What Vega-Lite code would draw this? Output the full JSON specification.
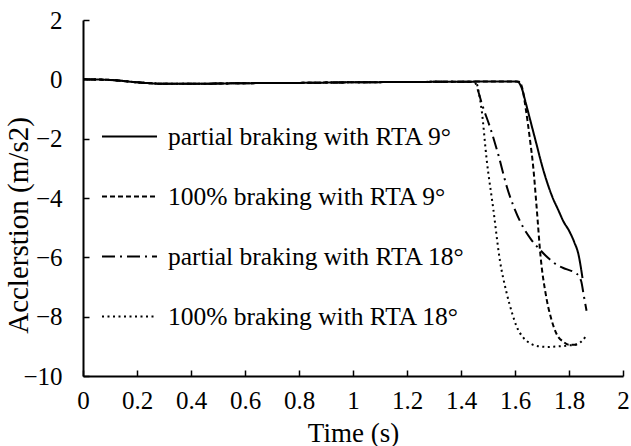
{
  "$schema": "https://vega.github.io/schema/vega-lite/v6.json",
  "width": 540,
  "height": 356,
  "autosize": {"type": "none"},
  "padding": {"left": 83, "top": 20, "right": 8, "bottom": 70},
  "background": "white",
  "config": {
    "view": {"stroke": null},
    "font": "Liberation Serif",
    "axis": {"labelFont": "Liberation Serif", "titleFont": "Liberation Serif", "titleFontWeight": "normal", "labelColor": "black", "titleColor": "black", "domainColor": "black", "tickColor": "black", "grid": false},
    "legend": {"labelFont": "Liberation Serif"}
  },
  "data": {"values": [
    {"t":0,"a":0,"s":"p9"},{"t":0.1,"a":-0.02,"s":"p9"},{"t":0.2,"a":-0.1,"s":"p9"},{"t":0.3,"a":-0.15,"s":"p9"},{"t":0.4,"a":-0.15,"s":"p9"},{"t":0.6,"a":-0.13,"s":"p9"},{"t":0.8,"a":-0.12,"s":"p9"},{"t":1.0,"a":-0.1,"s":"p9"},{"t":1.2,"a":-0.09,"s":"p9"},{"t":1.4,"a":-0.08,"s":"p9"},{"t":1.6,"a":-0.07,"s":"p9"},{"t":1.61,"a":-0.08,"s":"p9"},{"t":1.625,"a":-0.3,"s":"p9"},{"t":1.64,"a":-0.8,"s":"p9"},{"t":1.66,"a":-1.5,"s":"p9"},{"t":1.68,"a":-2.2,"s":"p9"},{"t":1.7,"a":-2.9,"s":"p9"},{"t":1.72,"a":-3.5,"s":"p9"},{"t":1.74,"a":-4.0,"s":"p9"},{"t":1.76,"a":-4.4,"s":"p9"},{"t":1.78,"a":-4.8,"s":"p9"},{"t":1.8,"a":-5.1,"s":"p9"},{"t":1.82,"a":-5.5,"s":"p9"},{"t":1.835,"a":-5.9,"s":"p9"},{"t":1.845,"a":-6.4,"s":"p9"},{"t":1.85,"a":-6.7,"s":"p9"},

    {"t":0,"a":0,"s":"f9"},{"t":0.1,"a":-0.02,"s":"f9"},{"t":0.2,"a":-0.1,"s":"f9"},{"t":0.3,"a":-0.15,"s":"f9"},{"t":0.4,"a":-0.15,"s":"f9"},{"t":0.6,"a":-0.13,"s":"f9"},{"t":0.8,"a":-0.12,"s":"f9"},{"t":1.0,"a":-0.1,"s":"f9"},{"t":1.2,"a":-0.09,"s":"f9"},{"t":1.4,"a":-0.08,"s":"f9"},{"t":1.6,"a":-0.07,"s":"f9"},{"t":1.615,"a":-0.08,"s":"f9"},{"t":1.627,"a":-0.3,"s":"f9"},{"t":1.64,"a":-1.0,"s":"f9"},{"t":1.655,"a":-2.0,"s":"f9"},{"t":1.668,"a":-3.0,"s":"f9"},{"t":1.68,"a":-4.3,"s":"f9"},{"t":1.695,"a":-6.0,"s":"f9"},{"t":1.715,"a":-7.3,"s":"f9"},{"t":1.735,"a":-8.1,"s":"f9"},{"t":1.755,"a":-8.6,"s":"f9"},{"t":1.78,"a":-8.85,"s":"f9"},{"t":1.8,"a":-8.95,"s":"f9"},{"t":1.83,"a":-8.95,"s":"f9"},

    {"t":0,"a":0,"s":"p18"},{"t":0.1,"a":-0.02,"s":"p18"},{"t":0.2,"a":-0.1,"s":"p18"},{"t":0.3,"a":-0.15,"s":"p18"},{"t":0.4,"a":-0.15,"s":"p18"},{"t":0.6,"a":-0.13,"s":"p18"},{"t":0.8,"a":-0.12,"s":"p18"},{"t":1.0,"a":-0.1,"s":"p18"},{"t":1.2,"a":-0.09,"s":"p18"},{"t":1.4,"a":-0.08,"s":"p18"},{"t":1.45,"a":-0.08,"s":"p18"},{"t":1.46,"a":-0.3,"s":"p18"},{"t":1.48,"a":-0.9,"s":"p18"},{"t":1.507,"a":-1.6,"s":"p18"},{"t":1.54,"a":-2.6,"s":"p18"},{"t":1.569,"a":-3.6,"s":"p18"},{"t":1.6,"a":-4.4,"s":"p18"},{"t":1.631,"a":-5.0,"s":"p18"},{"t":1.66,"a":-5.4,"s":"p18"},{"t":1.693,"a":-5.75,"s":"p18"},{"t":1.72,"a":-6.0,"s":"p18"},{"t":1.754,"a":-6.25,"s":"p18"},{"t":1.79,"a":-6.4,"s":"p18"},{"t":1.828,"a":-6.55,"s":"p18"},{"t":1.845,"a":-6.8,"s":"p18"},{"t":1.855,"a":-7.3,"s":"p18"},{"t":1.865,"a":-7.8,"s":"p18"},

    {"t":0,"a":0,"s":"f18"},{"t":0.1,"a":-0.02,"s":"f18"},{"t":0.2,"a":-0.1,"s":"f18"},{"t":0.3,"a":-0.15,"s":"f18"},{"t":0.4,"a":-0.15,"s":"f18"},{"t":0.6,"a":-0.13,"s":"f18"},{"t":0.8,"a":-0.12,"s":"f18"},{"t":1.0,"a":-0.1,"s":"f18"},{"t":1.2,"a":-0.09,"s":"f18"},{"t":1.4,"a":-0.08,"s":"f18"},{"t":1.455,"a":-0.08,"s":"f18"},{"t":1.465,"a":-0.4,"s":"f18"},{"t":1.476,"a":-1.0,"s":"f18"},{"t":1.495,"a":-2.7,"s":"f18"},{"t":1.52,"a":-4.4,"s":"f18"},{"t":1.544,"a":-6.1,"s":"f18"},{"t":1.569,"a":-7.2,"s":"f18"},{"t":1.59,"a":-7.9,"s":"f18"},{"t":1.606,"a":-8.33,"s":"f18"},{"t":1.63,"a":-8.7,"s":"f18"},{"t":1.656,"a":-8.9,"s":"f18"},{"t":1.69,"a":-9.0,"s":"f18"},{"t":1.72,"a":-9.02,"s":"f18"},{"t":1.76,"a":-9.0,"s":"f18"},{"t":1.8,"a":-8.97,"s":"f18"},{"t":1.83,"a":-8.93,"s":"f18"},{"t":1.85,"a":-8.8,"s":"f18"},{"t":1.868,"a":-8.6,"s":"f18"}
  ]},
  "transform": [
    {"lookup": "s", "from": {"data": {"values": [
      {"s":"p9","label":"partial braking with RTA 9°"},
      {"s":"f9","label":"100% braking with RTA 9°"},
      {"s":"p18","label":"partial braking with RTA 18°"},
      {"s":"f18","label":"100% braking with RTA 18°"}
    ]}, "key": "s", "fields": ["label"]}}
  ],
  "mark": {"type": "line", "color": "black", "strokeWidth": 2, "interpolate": "monotone", "clip": true},
  "encoding": {
    "x": {"field": "t", "type": "quantitative", "scale": {"domain": [0, 2], "nice": false},
      "axis": {"values": [0,0.2,0.4,0.6,0.8,1,1.2,1.4,1.6,1.8,2], "format": "~r", "title": "Time (s)", "labelFontSize": 25, "titleFontSize": 27, "tickSize": -6, "tickWidth": 1.5, "domainWidth": 2, "labelPadding": 18, "titlePadding": 7, "labelFlush": false}},
    "y": {"field": "a", "type": "quantitative", "scale": {"domain": [-10, 2], "nice": false},
      "axis": {"values": [-10,-8,-6,-4,-2,0,2], "format": "d", "title": "Acclerstion (m/s2)", "labelFontSize": 25, "titleFontSize": 29, "tickSize": -6, "tickWidth": 1.5, "domainWidth": 2, "labelPadding": 27, "titleX": -65, "titleY": 205, "titleBaseline": "middle", "labelFlush": false}},
    "strokeDash": {"field": "label", "type": "nominal",
      "sort": ["partial braking with RTA 9°", "100% braking with RTA 9°", "partial braking with RTA 18°", "100% braking with RTA 18°"],
      "scale": {"domain": ["partial braking with RTA 9°", "100% braking with RTA 9°", "partial braking with RTA 18°", "100% braking with RTA 18°"], "range": [[1,0],[5,3],[13,5,2,5],[2,3.5]]},
      "legend": {"title": null, "orient": "none", "legendX": 18, "legendY": 88, "symbolType": "stroke", "symbolSize": 3025, "symbolStrokeWidth": 2, "symbolStrokeColor": "black", "labelFontSize": 25.5, "labelFont": "Liberation Serif", "labelColor": "black", "labelLimit": 0, "rowPadding": 18, "labelOffset": 10}}
  }
}
